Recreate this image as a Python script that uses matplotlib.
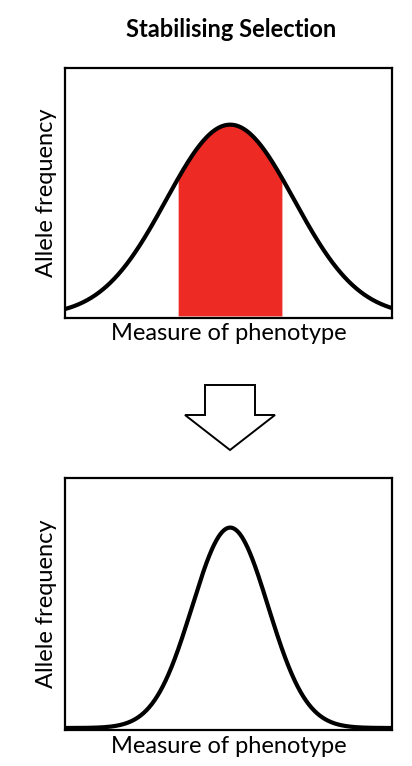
import numpy as np
import matplotlib.pyplot as plt
from matplotlib.patches import Polygon

plt.rcParams['font.family'] = ['Lato', 'DejaVu Sans']

# curve parameters (x in box units 0..327, y in box units 0..250)
top_curve = {'mu': 165, 'sigma': 64, 'peak': 193}
bottom_curve = {'mu': 165, 'sigma': 38, 'peak': 202}
red_band = (113, 217)

title = 'Stabilising Selection'
xlabel = 'Measure of phenotype'
ylabel = 'Allele frequency'


def bell(x, c):
    return c['peak'] * np.exp(-0.5 * ((x - c['mu']) / c['sigma']) ** 2)


fig = plt.figure(figsize=(4.12, 7.66), dpi=100)
ax1 = fig.add_axes([0.158, 0.585, 0.794, 0.326])
ax2 = fig.add_axes([0.158, 0.047, 0.794, 0.329])

x = np.linspace(0, 327, 600)
for ax, c, h in [(ax1, top_curve, 250), (ax2, bottom_curve, 252)]:
    y = bell(x, c)
    if ax is ax1:
        m = (x >= red_band[0]) & (x <= red_band[1])
        ax.fill_between(x[m], 0, y[m], color='#ee2a24', lw=0)
    ax.plot(x, y, color='black', lw=3, solid_capstyle='round')
    ax.set_xlim(0, 327)
    ax.set_ylim(-2, h)
    ax.set_xticks([])
    ax.set_yticks([])
    for s in ax.spines.values():
        s.set_linewidth(1.6)
    ax.set_xlabel(xlabel, fontsize=17, labelpad=4)
    ax.set_ylabel(ylabel, fontsize=17, labelpad=6)

fig.text(0.56, 0.962, title, ha='center', va='center', fontsize=17, fontweight='bold')

# hollow down arrow
W, H = 412, 766
pts = [(205, 385), (255, 385), (255, 415), (275, 415), (230, 450),
       (185, 415), (205, 415)]
arrow = Polygon([(px / W, 1 - py / H) for px, py in pts], closed=True,
                facecolor='white', edgecolor='black', lw=1.4,
                transform=fig.transFigure)
fig.patches.append(arrow)

plt.savefig('out.png')
plt.close()
